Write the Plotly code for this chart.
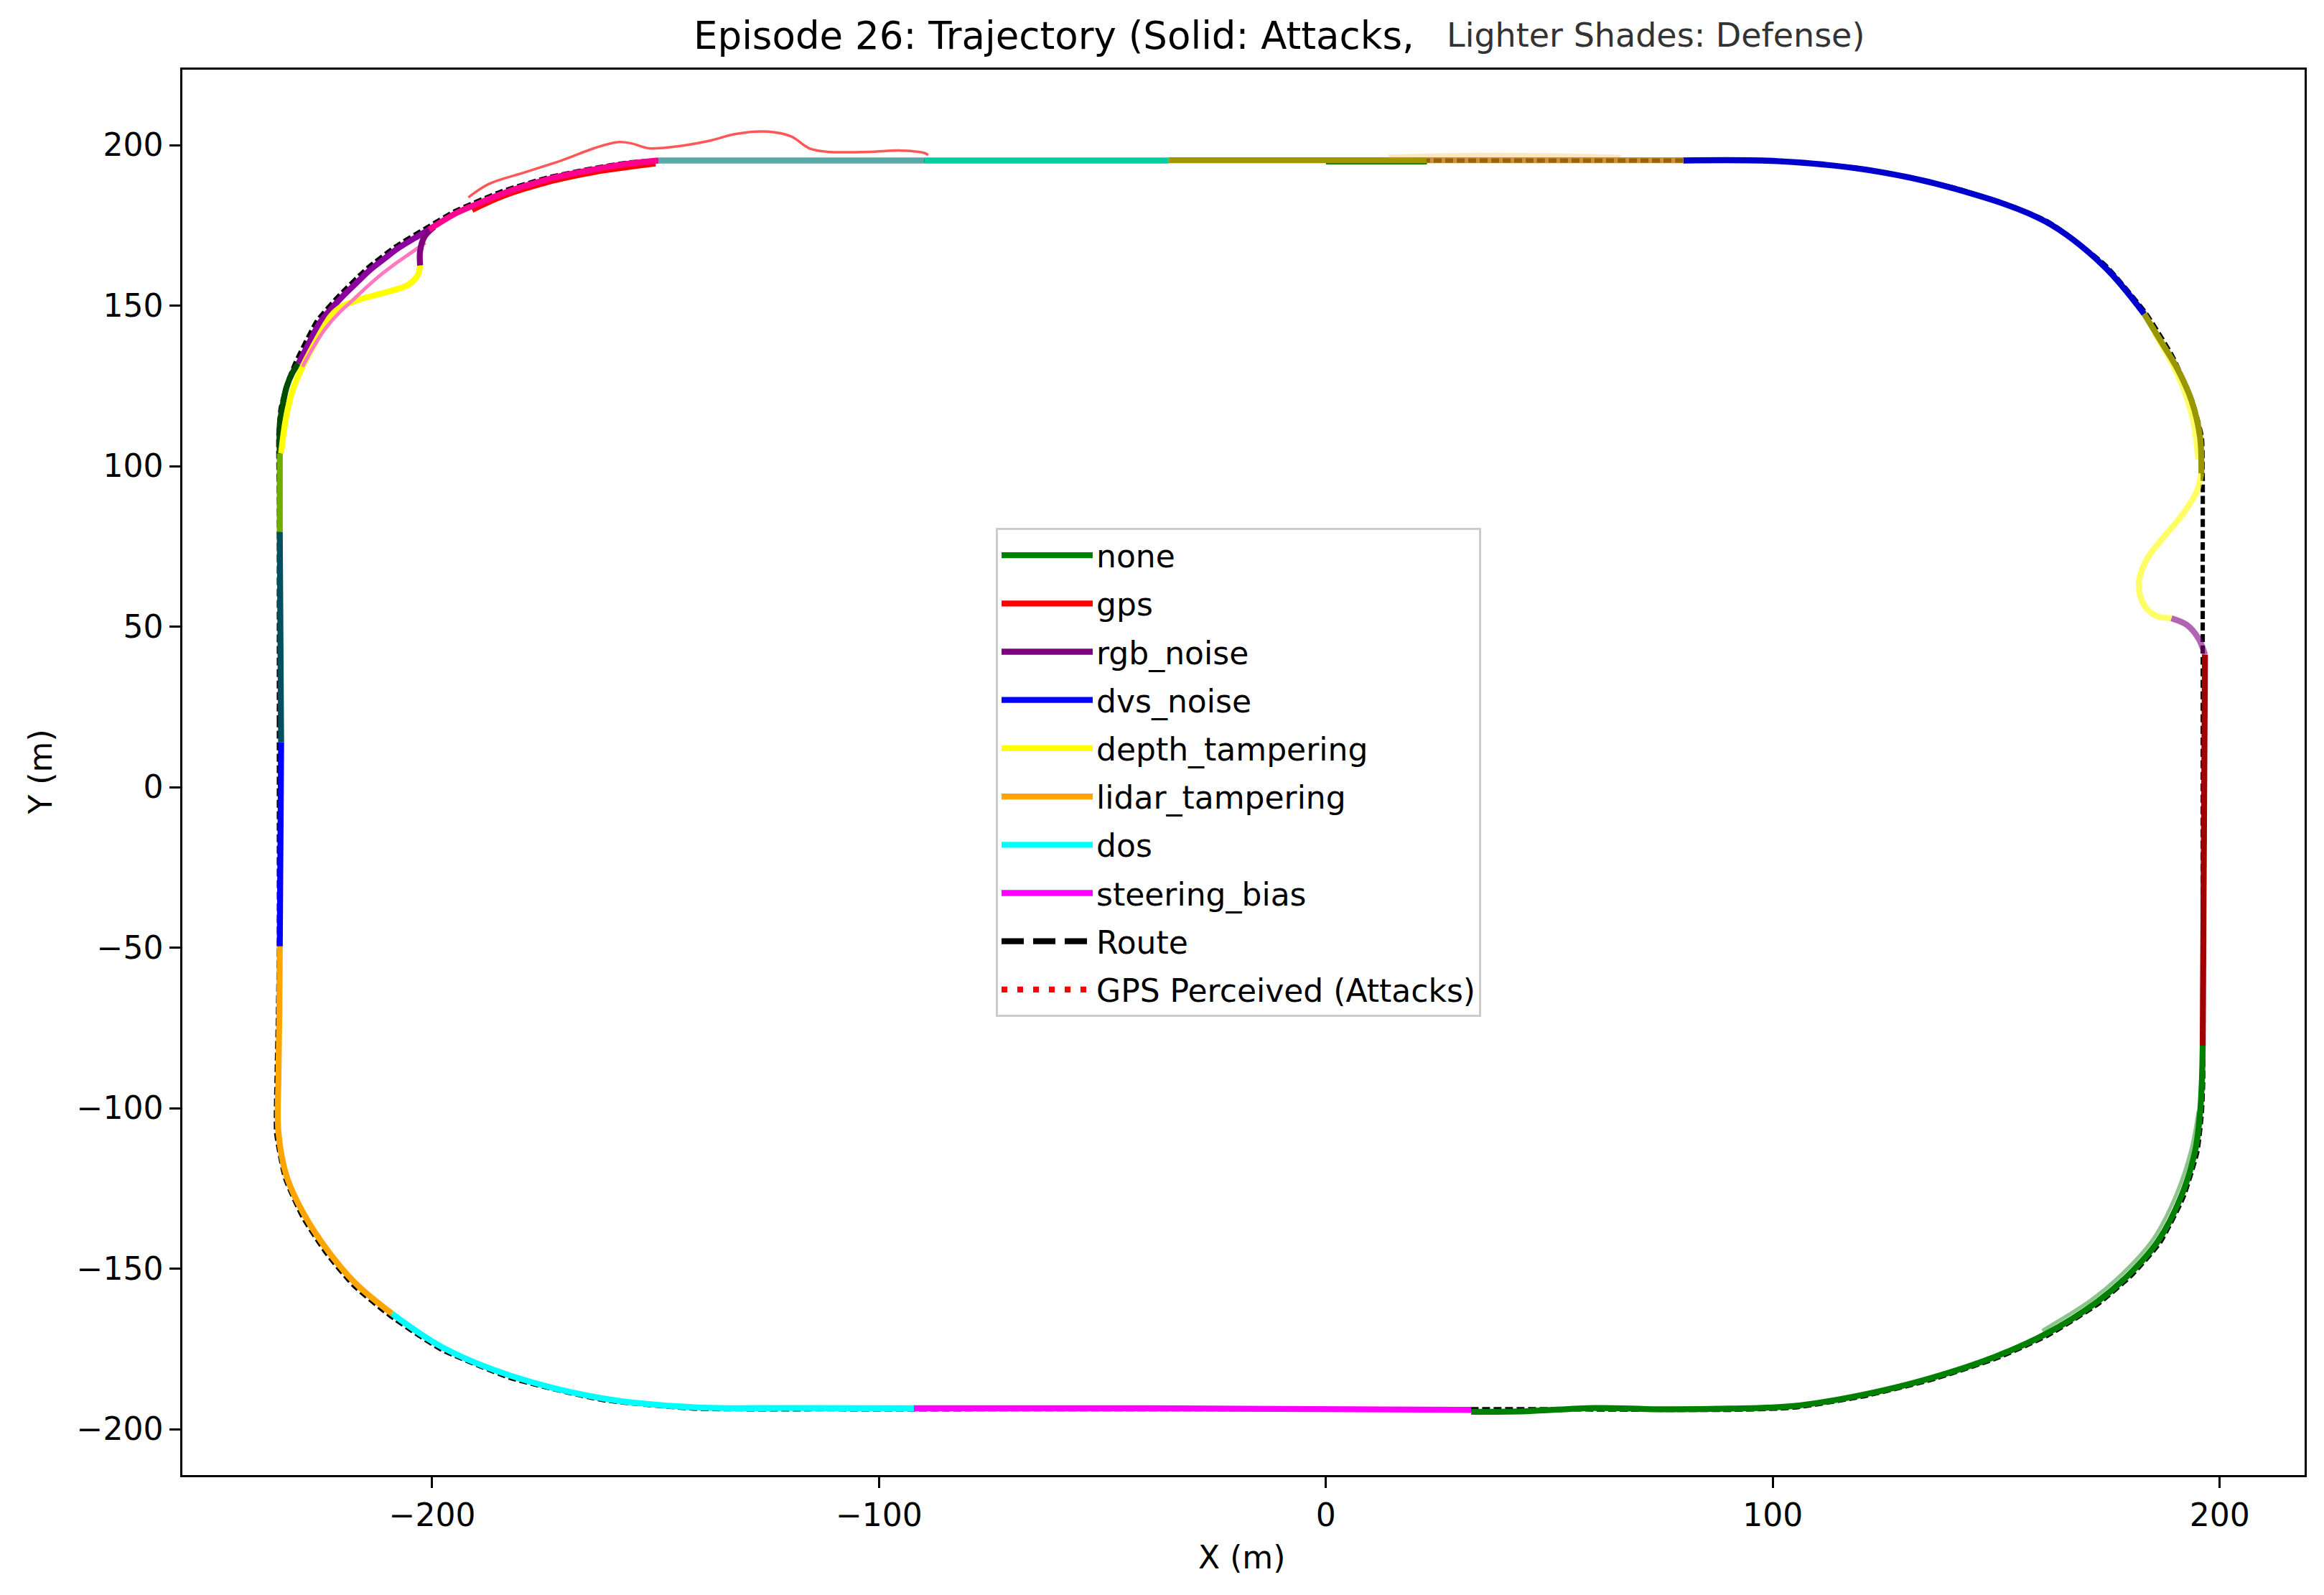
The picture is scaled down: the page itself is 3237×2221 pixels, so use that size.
import plotly.graph_objects as go

# ---------------- data ----------------
categories = ["none", "gps", "rgb_noise", "dvs_noise", "depth_tampering",
              "lidar_tampering", "dos", "steering_bias"]
category_colors = ["#008000", "#ff0000", "#800080", "#0000ff", "#ffff00",
                   "#ffa500", "#00ffff", "#ff00ff"]

x_ticks = [-200, -100, 0, 100, 200]
y_ticks = [-200, -150, -100, -50, 0, 50, 100, 150, 200]

route_x = [-234.3, -234.3, -234.3, -234.3, -234.4, -234.4, -233.9, -232.4, -230.5, -225.8,
           -220.6, -214.5, -208.2, -201.1, -194.8, -184.6, -174.2, -164.0, -156.0, -149.4,
           -110.0, -70.0, -30.0, 10.0, 45.0, 80.0,
           101.0, 121.0, 141.2, 161.3, 174.4, 183.5, 189.4, 193.8, 196.0, 196.2,
           196.2, 196.2, 196.2, 196.2, 196.3, 196.3, 196.0, 195.0, 191.9, 186.7, 180.4, 172.9,
           161.4, 150.1, 135.0, 119.8, 104.6, 90.0, 50.0, 10.0, -30.0, -70.0, -110.0, -141.4,
           -162.0, -182.6, -198.1, -209.5, -217.7, -223.8, -229.0, -232.9, -234.9, -234.8,
           -234.5, -234.3, -234.3]
route_y = [-20.0, 20.0, 60.0, 90.0, 100.0, 110.0, 118.0, 126.0, 132.5, 145.2,
           153.5, 161.7, 168.4, 174.4, 179.5, 185.5, 189.9, 192.8, 194.6, 195.2,
           195.2, 195.2, 195.2, 195.2, 195.2, 195.2,
           195.0, 192.4, 186.5, 176.4, 162.6, 147.6, 134.3, 120.6, 109.0, 97.7,
           70.0, 40.0, 0.0, -40.0, -80.5, -92.0, -101.6, -113.6, -127.7, -141.8, -151.9, -160.9,
           -170.9, -177.9, -184.8, -189.9, -193.3, -194.0, -193.8, -193.8, -193.8, -193.8, -193.8,
           -193.6, -190.9, -184.0, -175.1, -164.6, -155.1, -145.0, -133.9, -121.9, -107.8, -90.0,
           -70.0, -50.0, -20.0]

# visible trajectory pieces (attack run solid, defense run lighter), each as x / y lists
none_br_x = [196.2, 196.0, 195.6, 194.5, 191.4, 186.2, 180.0, 172.5, 161.0, 149.8, 134.8,
             119.7, 104.6, 90.0, 75.0, 60.0, 45.0, 32.5]
none_br_y = [-80.5, -92.0, -101.5, -113.4, -127.4, -141.4, -151.4, -160.4, -170.4, -177.4,
             -184.3, -189.4, -192.8, -193.6, -193.8, -193.4, -194.4, -194.6]
none_br_def_x = [195.2, 193.6, 190.3, 185.2, 179.0, 171.6, 160.3]
none_br_def_y = [-101.0, -113.0, -126.8, -140.6, -150.5, -159.4, -169.3]

steer_bottom_x = [32.5, 0.0, -40.0, -92.2]
steer_bottom_y = [-194.0, -193.6, -193.5, -193.5]

dos_bl_x = [-92.2, -120.0, -141.4, -161.9, -182.3, -197.7, -209.0]
dos_bl_y = [-193.5, -193.4, -193.2, -190.4, -183.4, -174.5, -164.0]

lidar_left_x = [-209.0, -217.2, -223.3, -228.5, -232.5, -234.4, -234.4, -234.2, -234.1]
lidar_left_y = [-164.0, -154.5, -144.5, -133.5, -121.5, -107.6, -90.0, -70.0, -49.6]

dvs_left_x = [-234.1, -233.9, -233.8]
dvs_left_y = [-49.6, -18.0, 14.0]

dvs_none_left_x = [-233.8, -233.9, -234.1]
dvs_none_left_y = [14.0, 45.0, 79.5]

depth_none_left_x = [-234.1, -234.1, -234.1]
depth_none_left_y = [79.5, 95.0, 104.0]

none_tl_x = [-234.1, -234.1, -233.5, -232.6, -231.3, -229.9]
none_tl_y = [104.0, 112.6, 118.5, 124.5, 129.0, 132.0]

depth_tl_x = [-233.8, -233.0, -232.2, -231.0, -229.0, -226.6, -224.4, -222.6, -220.1, -216.0,
              -209.9, -205.3, -203.2, -202.7]
depth_tl_y = [104.0, 112.6, 118.5, 124.5, 131.0, 137.5, 143.0, 146.9, 149.8, 152.0,
              154.3, 156.5, 159.5, 162.5]

rgb_tl_x = [-229.9, -227.5, -225.2, -222.5, -220.1, -217.0, -214.0, -210.8, -207.8, -204.2, -200.7]
rgb_tl_y = [132.0, 138.5, 144.6, 149.2, 152.8, 157.0, 161.0, 164.5, 167.7, 170.8, 173.7]

steer_tl_def_x = [-229.0, -226.4, -223.8, -220.8, -218.0, -214.8, -211.6, -208.3, -205.0, -201.5]
steer_tl_def_y = [131.0, 137.5, 143.0, 147.8, 151.4, 155.6, 159.5, 163.0, 166.2, 169.6]

rgb_dev_x = [-202.7, -202.7, -201.7, -199.6]
rgb_dev_y = [162.5, 167.0, 171.5, 174.5]

gps_tl_def_x = [-191.0, -184.0, -174.0, -164.0, -150.0]
gps_tl_def_y = [179.6, 184.0, 188.3, 191.3, 194.0]

steer_tl_x = [-200.7, -194.5, -189.0, -184.3, -174.0, -163.8, -156.0, -149.4]
steer_tl_y = [173.7, 178.9, 182.2, 184.9, 189.4, 192.4, 194.2, 195.2]

top_dos_gps_x = [-149.4, -120.0, -89.9]
top_dos_gps_y = [195.2, 195.2, 195.2]
top_dos_none_x = [-89.9, -60.0, -35.2]
top_dos_none_y = [195.2, 195.2, 195.2]
top_depth_none_x = [-35.2, 0.0, 22.6]
top_depth_none_y = [195.3, 195.3, 195.3]
top_none_x = [0.0, 22.6]
top_none_y = [194.4, 194.4]
top_lidar_x = [22.6, 50.0, 80.0]
top_lidar_y = [195.3, 195.3, 195.3]
top_lidar_glow_x = [14.0, 30.0, 50.0, 66.0]
top_lidar_glow_y = [196.4, 196.9, 196.8, 196.3]

dvs_tr_x = [80.0, 101.0, 121.0, 141.0, 161.0, 174.0, 183.1]
dvs_tr_y = [195.2, 195.0, 192.3, 186.3, 176.2, 162.4, 147.4]

depth_r_x = [183.1, 186.8, 190.5, 193.7, 195.6, 195.9]
depth_r_y = [147.4, 139.0, 130.4, 120.4, 109.0, 97.7]
depth_r_inner_x = [185.2, 188.6, 191.6, 193.9, 195.0]
depth_r_inner_y = [141.5, 133.5, 124.5, 114.0, 102.0]

depth_r_def_x = [195.9, 194.8, 191.6, 187.3, 183.5, 181.9, 183.0, 185.7, 189.2]
depth_r_def_y = [97.7, 91.9, 84.8, 77.6, 70.5, 63.4, 56.9, 53.4, 52.6]

rgb_r_def_x = [189.2, 192.7, 195.3, 196.7]
rgb_r_def_y = [52.6, 50.5, 46.2, 41.3]

gps_r_x = [196.7, 196.6, 196.4, 196.2]
gps_r_y = [41.3, 0.0, -40.0, -80.5]

gps_perceived_x = [-191.9, -187.3, -179.1, -170.9, -163.8, -158.6, -155.6, -151.5, -146.4,
                   -138.1, -132.0, -124.8, -119.7, -115.6, -111.5, -102.3, -95.1, -90.0, -89.0]
gps_perceived_y = [183.7, 187.9, 191.6, 195.3, 199.0, 200.9, 200.6, 199.0, 199.4,
                   201.3, 203.5, 204.2, 202.7, 199.0, 197.9, 197.9, 198.3, 197.6, 196.9]

# ---------------- figure ----------------
FONT = "DejaVu Sans"
LW = 8.3
TICK_SIZE = 44

fig = go.Figure()

fig.add_trace(go.Scatter(x=route_x, y=route_y, mode="lines", showlegend=False, hoverinfo="skip",
                         line=dict(color="black", width=6, dash="11px,5px",
                                   shape="spline", smoothing=0.5)))

pieces = [
    (none_br_def_x, none_br_def_y, "#008000", 5, 0.45, "spline"),
    (none_br_x, none_br_y, "#008000", LW, 1.0, "spline"),
    (steer_bottom_x, steer_bottom_y, "#ff00ff", LW, 1.0, "linear"),
    (dos_bl_x, dos_bl_y, "#00ffff", LW, 1.0, "spline"),
    (lidar_left_x, lidar_left_y, "#ffa500", LW, 1.0, "spline"),
    (dvs_left_x, dvs_left_y, "#0000ff", LW, 1.0, "linear"),
    (dvs_none_left_x, dvs_none_left_y, "#005060", LW, 1.0, "linear"),
    (depth_none_left_x, depth_none_left_y, "#6eae00", LW, 1.0, "linear"),
    (none_tl_x, none_tl_y, "#004d00", LW, 1.0, "spline"),
    (rgb_tl_x, rgb_tl_y, "#8c00a0", LW, 1.0, "spline"),
    (depth_tl_x, depth_tl_y, "#ffff00", LW, 1.0, "spline"),
    (steer_tl_def_x, steer_tl_def_y, "#ff78c0", 5, 1.0, "spline"),
    (rgb_dev_x, rgb_dev_y, "#800080", LW, 1.0, "spline"),
    (gps_tl_def_x, gps_tl_def_y, "#ff0000", 6, 1.0, "spline"),
    (steer_tl_x, steer_tl_y, "#ff0090", LW, 1.0, "spline"),
    (top_dos_gps_x, top_dos_gps_y, "#5aa8a8", LW, 1.0, "linear"),
    (top_dos_none_x, top_dos_none_y, "#00d0a0", LW, 1.0, "linear"),
    (top_none_x, top_none_y, "#008000", 4, 1.0, "linear"),
    (top_depth_none_x, top_depth_none_y, "#a09600", LW, 1.0, "linear"),
    (top_lidar_glow_x, top_lidar_glow_y, "#ffa500", 6, 0.25, "spline"),
    (top_lidar_x, top_lidar_y, "#c07a0a", LW, 0.8, "linear"),
    (dvs_tr_x, dvs_tr_y, "#0000cc", LW, 1.0, "spline"),
    (depth_r_inner_x, depth_r_inner_y, "#ffff00", 6, 0.6, "spline"),
    (depth_r_x, depth_r_y, "#9a9600", LW, 1.0, "spline"),
    (depth_r_def_x, depth_r_def_y, "#ffff00", LW, 0.6, "spline"),
    (rgb_r_def_x, rgb_r_def_y, "#800080", LW, 0.6, "spline"),
    (gps_r_x, gps_r_y, "#a00000", LW, 1.0, "linear"),
]
for px, py, col, w, op, shp in pieces:
    fig.add_trace(go.Scatter(x=px, y=py, mode="lines", showlegend=False, hoverinfo="skip",
                             opacity=op, line=dict(color=col, width=w, shape=shp)))

fig.add_trace(go.Scatter(x=gps_perceived_x, y=gps_perceived_y, mode="lines", showlegend=False,
                         hoverinfo="skip", opacity=0.75,
                         line=dict(color="#ff2020", width=3.5, shape="spline")))

# legend entries
for name, col in zip(categories, category_colors):
    fig.add_trace(go.Scatter(x=[None], y=[None], mode="lines", name=name, legendgroup=name,
                             line=dict(color=col, width=LW)))
fig.add_trace(go.Scatter(x=[None], y=[None], mode="lines", name="Route", legendgroup="Route",
                         line=dict(color="black", width=LW, dash="31px,13px")))
fig.add_trace(go.Scatter(x=[None], y=[None], mode="lines", name="GPS Perceived (Attacks)",
                         legendgroup="GPS", line=dict(color="red", width=LW, dash="8px,14px")))

axis_common = dict(showgrid=False, zeroline=False, showline=True, linecolor="black",
                   linewidth=3.3, mirror=True, ticks="outside", ticklen=14.6, tickwidth=3.3,
                   tickcolor="black", tickfont=dict(family=FONT, size=TICK_SIZE, color="black"))

fig.update_layout(
    width=3229, height=2213, autosize=False,
    margin=dict(l=246, r=27, t=89, b=167, pad=0),
    paper_bgcolor="white", plot_bgcolor="white",
    font=dict(family=FONT, size=TICK_SIZE, color="black"),
    xaxis=dict(range=[-255.9, 219.0], tickvals=x_ticks, **axis_common),
    yaxis=dict(range=[-214.3, 223.5], tickvals=y_ticks, **axis_common),
    legend=dict(x=0.3833, y=0.674, xanchor="left", yanchor="top",
                bgcolor="rgba(255,255,255,0.8)", bordercolor="#cccccc", borderwidth=3,
                font=dict(family=FONT, size=TICK_SIZE, color="black"),
                tracegroupgap=7, itemwidth=127),
    annotations=[
        dict(text="Episode 26: Trajectory (Solid: Attacks,", xref="paper", yref="paper",
             x=0.4107, y=1, xanchor="center", yanchor="middle", yshift=48, showarrow=False,
             font=dict(family=FONT, size=53, color="black")),
        dict(text="Lighter Shades: Defense)", xref="paper", yref="paper",
             x=0.6942, y=1, xanchor="center", yanchor="middle", yshift=48, showarrow=False,
             font=dict(family=FONT, size=46, color="#333333")),
        dict(text="X (m)", xref="paper", yref="paper", x=0.4993, y=0, xanchor="center",
             yanchor="middle", yshift=-114, showarrow=False,
             font=dict(family=FONT, size=TICK_SIZE, color="black")),
        dict(text="Y (m)", xref="paper", yref="paper", x=0, y=0.5, xanchor="center",
             yanchor="middle", xshift=-198, textangle=-90, showarrow=False,
             font=dict(family=FONT, size=TICK_SIZE, color="black")),
    ],
)

fig.write_html("out.html")
